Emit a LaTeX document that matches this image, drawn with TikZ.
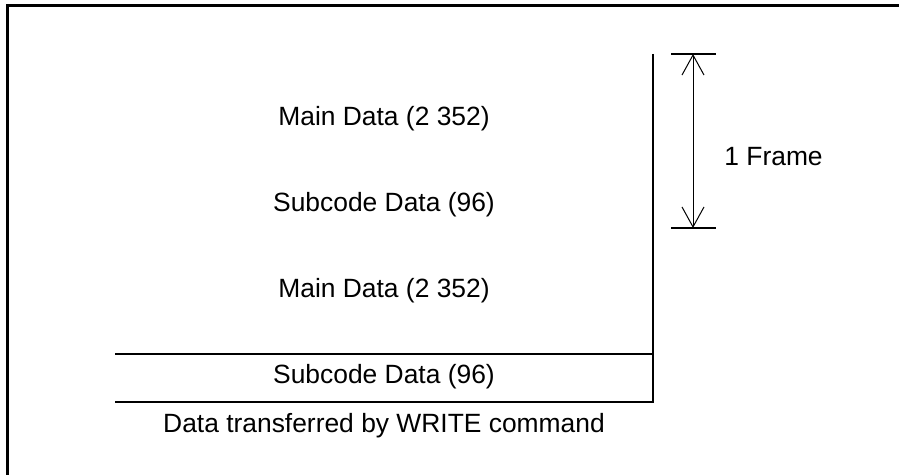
\documentclass[tikz,border=0pt]{standalone}
\usepackage{fontspec}
\setmainfont{Liberation Sans}
\usetikzlibrary{arrows.meta}
\begin{document}
\begin{tikzpicture}[
  x=0.5pt, y=-0.5pt,
  node distance=43pt,
  txt/.style={font=\fontsize{13.2}{16}\selectfont, inner sep=0pt},
  rule/.style={line width=1pt},
  dimline/.style={{Straight Barb[length=10pt,width=11pt]}-{Straight Barb[length=10pt,width=11pt]}, line width=0.5pt}
]
  \useasboundingbox (0,0) rectangle (899,475);
  % outer frame (top and left only)
  \draw[line width=1.5pt] (7,475) -- (7,6) -- (899,6);

  \node[txt] (main1) at (384,119) {Main Data (2 352)};
  \node[txt, below of=main1] (sub1) {Subcode Data (96)};
  \node[txt, below of=sub1] (main2) {Main Data (2 352)};
  \node[txt, below of=main2] (sub2) {Subcode Data (96)};
  \node[txt, below of=sub2, node distance=24.5pt] (caption) {Data transferred by WRITE command};

  \coordinate (top) at (653,54);
  \coordinate (mid) at (653,354);
  \coordinate (bot) at (653,402);
  \coordinate (midleft) at (115,354);
  \coordinate (botleft) at (115,402);
  \draw[rule] (top) -- (bot) -- (botleft);
  \draw[rule] (midleft) -- (mid);

  % frame dimension
  \coordinate (ftop) at (693,54);
  \coordinate (fbot) at (693,228);
  \draw[rule] (671,54) -- (716,54);
  \draw[rule] (671,228) -- (716,228);
  \draw[dimline] (ftop) -- (fbot);
  \node[txt, anchor=west] (frame) at (724,157) {1 Frame};
\end{tikzpicture}
\end{document}
